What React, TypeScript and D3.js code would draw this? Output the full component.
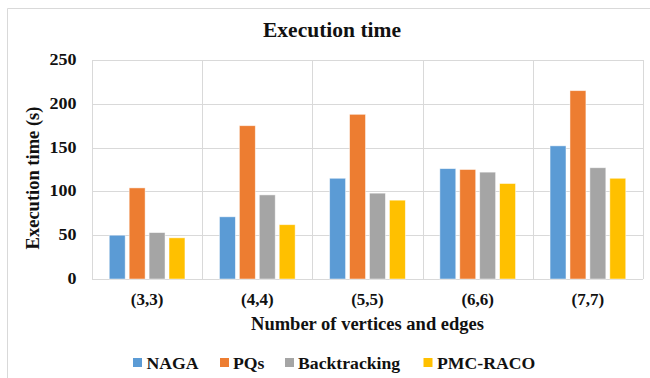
import React from "react";
import * as d3 from "d3";

const categories = ["(3,3)", "(4,4)", "(5,5)", "(6,6)", "(7,7)"];
const seriesNames = ["NAGA", "PQs", "Backtracking", "PMC-RACO"];
const naga = [50, 71, 115, 126, 152];
const pqs = [104, 175, 188, 125, 215];
const backtracking = [53, 96, 98, 122, 127];
const pmcRaco = [47, 62, 90, 109, 115];
const yTicks = [0, 50, 100, 150, 200, 250];
const colors = ["#5B9BD5", "#ED7D31", "#A5A5A5", "#FFC000"];

const seriesValues = [naga, pqs, backtracking, pmcRaco];

const W = 650;
const H = 378;
const plot = { left: 92, right: 643, top: 60, bottom: 279 };
const FONT = '"Liberation Serif", "Times New Roman", "DejaVu Serif", serif';

export default function App() {
  const x0 = d3.scaleBand<string>().domain(categories).range([plot.left, plot.right]).padding(0);
  const groupW = x0.bandwidth() * 0.687;
  const x1 = d3
    .scaleBand<string>()
    .domain(seriesNames)
    .range([0, groupW])
    .paddingInner(0.2)
    .paddingOuter(0);
  const y = d3.scaleLinear().domain([0, 250]).range([plot.bottom, plot.top]);

  const boundaries = [...categories.map((c) => x0(c) as number), plot.right];

  const legendItems = [
    { name: "NAGA", sq: 133, tx: 146.5 },
    { name: "PQs", sq: 220, tx: 233 },
    { name: "Backtracking", sq: 285, tx: 298 },
    { name: "PMC-RACO", sq: 423.5, tx: 437 },
  ];

  const txt = { fontFamily: FONT, fontWeight: 700 as const, fill: "#111" };

  return (
    <svg
      width={W}
      height={H}
      style={{ position: "absolute", left: 0, top: 0, background: "#fff", fontFamily: FONT }}
    >
      <rect x={0} y={0} width={W} height={H} fill="#fff" />
      <line x1={7.5} y1={8.5} x2={W} y2={8.5} stroke="#d9d9d9" />
      <line x1={7.5} y1={8.5} x2={7.5} y2={H} stroke="#d9d9d9" />

      <text x={332} y={37} textAnchor="middle" style={{ ...txt, fontSize: 21.5 }}>
        Execution time
      </text>

      {yTicks.map((t) => (
        <line
          key={"h" + t}
          x1={plot.left}
          x2={plot.right}
          y1={Math.round(y(t)) + 0.5}
          y2={Math.round(y(t)) + 0.5}
          stroke="#d9d9d9"
          strokeWidth={1}
        />
      ))}
      {boundaries.map((b, i) => (
        <line
          key={"v" + i}
          x1={Math.round(b) + 0.5}
          x2={Math.round(b) + 0.5}
          y1={plot.top}
          y2={plot.bottom}
          stroke="#d9d9d9"
          strokeWidth={1}
        />
      ))}

      {categories.map((c, ci) => {
        const gx = (x0(c) as number) + (x0.bandwidth() - groupW) / 2;
        return (
          <g key={c} transform={`translate(${gx},0)`}>
            {seriesNames.map((s, si) => {
              const v = seriesValues[si][ci];
              return (
                <rect
                  key={s}
                  x={x1(s) as number}
                  y={y(v)}
                  width={x1.bandwidth()}
                  height={y(0) - y(v)}
                  fill={colors[si]}
                  stroke="#ffffff"
                  strokeOpacity={0.6}
                  strokeWidth={0.8}
                />
              );
            })}
          </g>
        );
      })}

      {yTicks.map((t) => (
        <text
          key={"yt" + t}
          x={76.5}
          y={y(t) + 5}
          textAnchor="end"
          textLength={String(t).length * 9}
          lengthAdjust="spacingAndGlyphs"
          style={{ ...txt, fontSize: 16 }}
        >
          {t}
        </text>
      ))}

      {categories.map((c) => (
        <text
          key={"xl" + c}
          x={(x0(c) as number) + x0.bandwidth() / 2}
          y={305}
          textAnchor="middle"
          style={{ ...txt, fontSize: 17 }}
        >
          {c}
        </text>
      ))}

      <text
        x={(plot.left + plot.right) / 2}
        y={330}
        textAnchor="middle"
        style={{ ...txt, fontSize: 18.5 }}
      >
        Number of vertices and edges
      </text>

      <text
        transform={`translate(39,178) rotate(-90)`}
        textAnchor="middle"
        style={{ ...txt, fontSize: 18.5 }}
      >
        Execution time (s)
      </text>

      {legendItems.map((it, i) => (
        <g key={it.name}>
          <rect x={it.sq} y={358} width={9} height={9} fill={colors[i]} />
          <text x={it.tx} y={368.5} style={{ ...txt, fontSize: 17.7 }}>
            {it.name}
          </text>
        </g>
      ))}
    </svg>
  );
}
